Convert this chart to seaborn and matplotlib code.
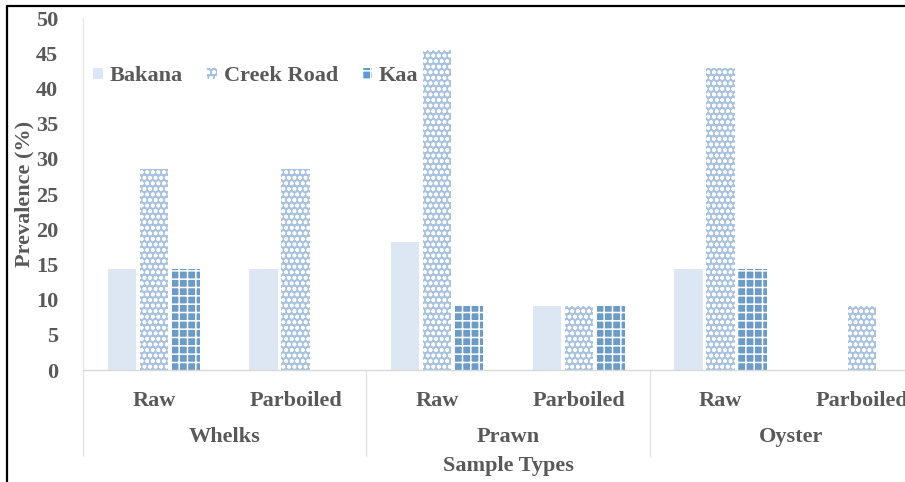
import matplotlib
matplotlib.use("Agg")
import matplotlib.pyplot as plt
from matplotlib.patches import Patch
from matplotlib.lines import Line2D
import matplotlib.transforms as mtransforms
import seaborn as sns
import pandas as pd

# Prevalence (%) of isolates by sampling site, sample type and processing
groups = ["Whelks", "Prawn", "Oyster"]
treatments = ["Raw", "Parboiled"]
sites = ["Bakana", "Creek Road", "Kaa"]
bakana = [14.3, 14.3, 18.2, 9.1, 14.3, 0.0]
creek_road = [28.6, 28.6, 45.5, 9.1, 42.9, 9.1]
kaa = [14.3, 0.0, 9.1, 9.1, 14.3, 0.0]
y_ticks = [0, 5, 10, 15, 20, 25, 30, 35, 40, 45, 50]

slots = [f"{g} {t}" for g in groups for t in treatments]
records = []
for site, vals in zip(sites, [bakana, creek_road, kaa]):
    for slot, v in zip(slots, vals):
        records.append({"slot": slot, "site": site, "value": v})
df = pd.DataFrame(records)

sns.set_theme(style="white")
plt.rcParams["font.family"] = ["Liberation Serif", "DejaVu Serif"]
plt.rcParams["font.weight"] = "bold"
plt.rcParams["hatch.linewidth"] = 1.1

text_color = "#595959"
fs = 16
face = {"Bakana": "#d9e7f7", "Creek Road": "#9fc2ea", "Kaa": "#5b9bd9"}
hatch = {"Bakana": "", "Creek Road": "ooo", "Kaa": "++"}

fig = plt.figure(figsize=(9.05, 4.82), dpi=100)
ax = fig.add_axes([83 / 905, 1 - 370 / 482, 850 / 905, 352 / 482])

sns.barplot(data=df, x="slot", y="value", hue="site", order=slots,
            hue_order=sites, palette=face, width=0.68, gap=0.12,
            linewidth=0, edgecolor="white", legend=False, ax=ax)

for site, cont in zip(sites, ax.containers):
    for p in cont:
        p.set_hatch(hatch[site])
        p.set_edgecolor("white")
        p.set_linewidth(0)

ax.set_xlim(-0.5, len(slots) - 0.5)
ax.set_ylim(0, 50)
ax.set_yticks(y_ticks)
ax.set_yticklabels([str(t) for t in y_ticks], fontsize=fs, color=text_color,
                   fontweight="bold")
ax.set_xticks(range(len(slots)))
ax.set_xticklabels([t for g in groups for t in treatments], fontsize=fs,
                   color=text_color, fontweight="bold")
ax.tick_params(axis="x", length=0, pad=15)
ax.tick_params(axis="y", length=0, pad=18)

for s in ["top", "right"]:
    ax.spines[s].set_visible(False)
ax.spines["left"].set_color("#e6e6e6")
ax.spines["bottom"].set_color("#d9d9d9")
ax.spines["left"].set_linewidth(1.0)
ax.spines["bottom"].set_linewidth(1.0)

ax.set_xlabel("Sample Types", fontsize=fs, color=text_color,
              fontweight="bold")
ax.set_ylabel("Prevalence (%)", fontsize=fs, color=text_color,
              fontweight="bold")
ax.xaxis.set_label_coords(0.5, -0.244)
ax.yaxis.set_label_coords(-0.0576, 0.5)

# group dividers and group names below the treatment labels
trans = mtransforms.blended_transform_factory(ax.transData, ax.transAxes)
for i in range(len(groups)):
    x0 = i * len(treatments) - 0.5
    ax.add_line(Line2D([x0, x0], [0, -0.245], transform=trans,
                       color="#e3e3e3", lw=1.0, clip_on=False))
    ax.text(x0 + len(treatments) / 2, -0.19, groups[i], transform=trans,
            ha="center", va="center", fontsize=fs, color=text_color,
            fontweight="bold")

handles = [Patch(facecolor=face[s], edgecolor="white", linewidth=0,
                 hatch=hatch[s]) for s in sites]
ax.legend(handles, sites, loc="center left", bbox_to_anchor=(-0.012, 0.834),
          ncol=3, frameon=False, handlelength=0.45, handleheight=0.45,
          handletextpad=0.3, columnspacing=1.1,
          prop={"family": "Liberation Serif", "weight": "bold", "size": fs},
          labelcolor=text_color)

# outer frame lines
fig.add_artist(Line2D([7 / 905, 7 / 905], [0, 1 - 6 / 482],
                      transform=fig.transFigure, color="black", lw=1.6))
fig.add_artist(Line2D([7 / 905, 1], [1 - 6 / 482, 1 - 6 / 482],
                      transform=fig.transFigure, color="black", lw=1.6))

fig.savefig("out.png", dpi=100)
